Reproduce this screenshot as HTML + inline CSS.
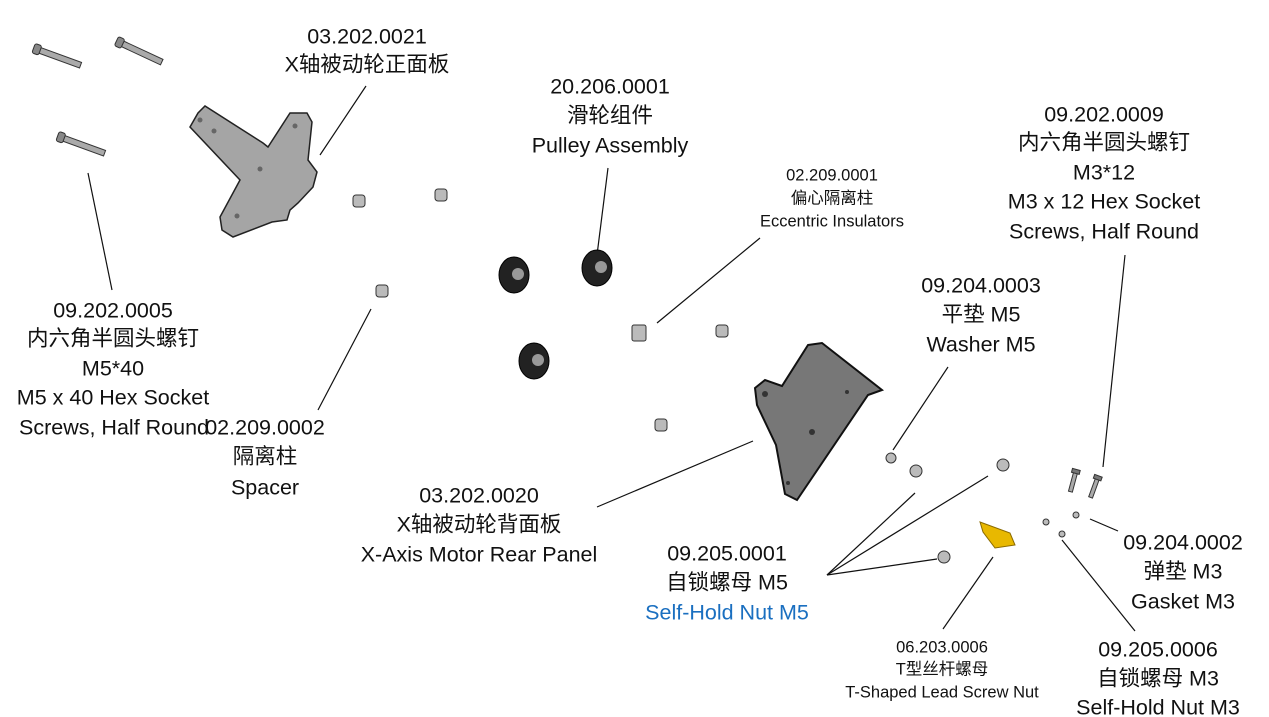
<!DOCTYPE html>
<html><head><meta charset="utf-8"><style>
html,body{margin:0;padding:0;background:#fff;}
svg{display:block}
text{font-family:"Liberation Sans","Noto Sans CJK SC",sans-serif;fill:#111;text-anchor:middle;dominant-baseline:middle}
.b{font-size:21.5px}
.s{font-size:16.5px}
</style></head><body>
<svg width="1269" height="717" viewBox="0 0 1269 717">
<g stroke="#111" stroke-width="1.2" fill="none">
<line x1="366" y1="86" x2="320" y2="155"/>
<line x1="608" y1="168" x2="597" y2="255"/>
<line x1="760" y1="238" x2="657" y2="323"/>
<line x1="1125" y1="255" x2="1103" y2="467"/>
<line x1="948" y1="367" x2="893" y2="450"/>
<line x1="88" y1="173" x2="112" y2="290"/>
<line x1="371" y1="309" x2="318" y2="410"/>
<line x1="753" y1="441" x2="597" y2="507"/>
<line x1="827" y1="575" x2="915" y2="493"/>
<line x1="827" y1="575" x2="988" y2="476"/>
<line x1="827" y1="575" x2="937" y2="559"/>
<line x1="1090" y1="519" x2="1118" y2="531"/>
<line x1="993" y1="557" x2="943" y2="629"/>
<line x1="1062" y1="540" x2="1135" y2="631"/>
</g>
<g fill="#aaa" stroke="#333" stroke-width="1">
<g transform="translate(58,57) rotate(20)"><rect x="-20" y="-3" width="44" height="6"/><rect x="-26" y="-5" width="7" height="10" rx="2" fill="#888"/></g>
<g transform="translate(140,52) rotate(25)"><rect x="-20" y="-3" width="44" height="6"/><rect x="-26" y="-5" width="7" height="10" rx="2" fill="#888"/></g>
<g transform="translate(82,145) rotate(20)"><rect x="-20" y="-3" width="44" height="6"/><rect x="-26" y="-5" width="7" height="10" rx="2" fill="#888"/></g>
<g transform="translate(1073,482) rotate(-75)"><rect x="-10" y="-2" width="20" height="4"/><rect x="9" y="-4" width="4" height="8" fill="#777"/></g>
<g transform="translate(1094,488) rotate(-70)"><rect x="-10" y="-2" width="20" height="4"/><rect x="9" y="-4" width="4" height="8" fill="#777"/></g>
</g>
<polygon points="190,127 198,113 205,106 263,143 268,147 290,113 307,113 312,122 308,160 317,172 313,187 298,203 290,210 287,220 272,222 233,237 222,230 220,217 240,180" fill="#a5a5a5" stroke="#222" stroke-width="1.5"/>
<g fill="#666"><circle cx="200" cy="120" r="2.5"/><circle cx="214" cy="131" r="2.5"/><circle cx="260" cy="169" r="2.5"/><circle cx="295" cy="126" r="2.5"/><circle cx="237" cy="216" r="2.5"/></g>
<polygon points="808,345 822,343 882,390 868,395 797,500 785,494 776,445 757,405 755,388 765,380 782,386" fill="#777" stroke="#111" stroke-width="2"/>
<g fill="#333"><circle cx="765" cy="394" r="3"/><circle cx="812" cy="432" r="3"/><circle cx="788" cy="483" r="2"/><circle cx="847" cy="392" r="2"/></g>
<g fill="#222" stroke="#000">
<ellipse cx="514" cy="275" rx="15" ry="18"/><ellipse cx="597" cy="268" rx="15" ry="18"/><ellipse cx="534" cy="361" rx="15" ry="18"/>
</g>
<g fill="#999"><circle cx="518" cy="274" r="6"/><circle cx="601" cy="267" r="6"/><circle cx="538" cy="360" r="6"/></g>
<g fill="#bbb" stroke="#333">
<rect x="353" y="195" width="12" height="12" rx="3"/><rect x="435" y="189" width="12" height="12" rx="3"/><rect x="376" y="285" width="12" height="12" rx="3"/>
<rect x="716" y="325" width="12" height="12" rx="3"/><rect x="655" y="419" width="12" height="12" rx="3"/><rect x="632" y="325" width="14" height="16" rx="2"/>
<circle cx="891" cy="458" r="5"/><circle cx="916" cy="471" r="6"/><circle cx="1003" cy="465" r="6"/><circle cx="944" cy="557" r="6"/>
<circle cx="1046" cy="522" r="3"/><circle cx="1062" cy="534" r="3"/><circle cx="1076" cy="515" r="3"/>
</g>
<path d="M980 522 L1010 533 L1015 545 L995 548 L983 532Z" fill="#e8b800" stroke="#8a6a00"/>
<g>
<text class="b" x="367" y="38">03.202.0021</text><text class="b" x="367" y="66">X轴被动轮正面板</text>
<text class="b" x="610" y="88">20.206.0001</text><text class="b" x="610" y="117">滑轮组件</text><text class="b" x="610" y="147">Pulley Assembly</text>
<text class="s" x="832" y="176">02.209.0001</text><text class="s" x="832" y="199">偏心隔离柱</text><text class="s" x="832" y="222">Eccentric  Insulators</text>
<text class="b" x="1104" y="116">09.202.0009</text><text class="b" x="1104" y="144">内六角半圆头螺钉</text><text class="b" x="1104" y="174">M3*12</text><text class="b" x="1104" y="203">M3 x 12 Hex Socket</text><text class="b" x="1104" y="233">Screws, Half Round</text>
<text class="b" x="981" y="287">09.204.0003</text><text class="b" x="981" y="316">平垫 M5</text><text class="b" x="981" y="346">Washer M5</text>
<text class="b" x="113" y="312">09.202.0005</text><text class="b" x="113" y="340">内六角半圆头螺钉</text><text class="b" x="113" y="370">M5*40</text><text class="b" x="113" y="399">M5 x 40 Hex Socket</text><text class="b" x="114" y="429">Screws, Half Round</text>
<text class="b" x="265" y="429">02.209.0002</text><text class="b" x="265" y="458">隔离柱</text><text class="b" x="265" y="489">Spacer</text>
<text class="b" x="479" y="497">03.202.0020</text><text class="b" x="479" y="526">X轴被动轮背面板</text><text class="b" x="479" y="556">X-Axis Motor Rear Panel</text>
<text class="b" x="727" y="555">09.205.0001</text><text class="b" x="727" y="584">自锁螺母 M5</text><text class="b" x="727" y="614" style="fill:#1a6fc0">Self-Hold Nut M5</text>
<text class="b" x="1183" y="544">09.204.0002</text><text class="b" x="1183" y="573">弹垫 M3</text><text class="b" x="1183" y="603">Gasket M3</text>
<text class="s" x="942" y="648">06.203.0006</text><text class="s" x="942" y="670">T型丝杆螺母</text><text class="s" x="942" y="693">T-Shaped Lead Screw Nut</text>
<text class="b" x="1158" y="651">09.205.0006</text><text class="b" x="1158" y="680">自锁螺母 M3</text><text class="b" x="1158" y="709">Self-Hold Nut M3</text>
</g>
</svg>
</body></html>
